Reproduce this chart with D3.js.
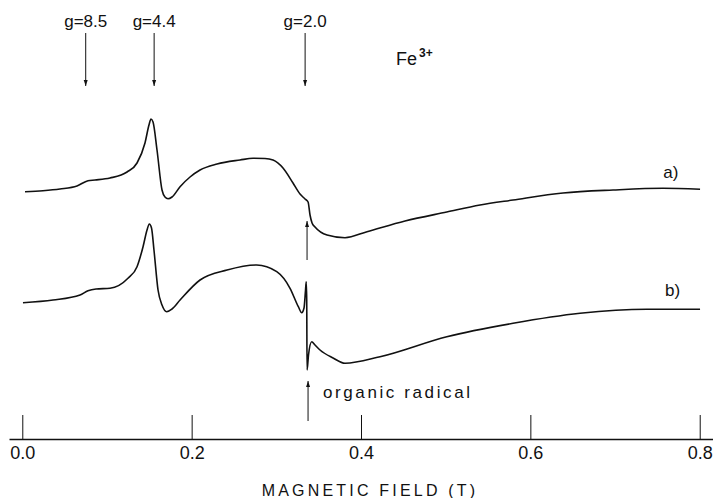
<!DOCTYPE html>
<html>
<head>
<meta charset="utf-8">
<script src="https://cdn.jsdelivr.net/npm/d3@7"></script>
<style>
  html, body { margin: 0; padding: 0; background: #fff; }
  svg { display: block; }
  text { font-family: "Liberation Sans", Arial, sans-serif; fill: #111; }
</style>
</head>
<body>
<svg id="chart" width="713" height="498"></svg>
<script>
// ---- data (magnetic field in T, derivative signal in arbitrary units) ----
const fieldA = [0.0032,0.0244,0.0445,0.0646,0.0776,0.0859,0.1036,0.1237,0.1355,0.1449,0.1496,0.1520,0.1544,0.1591,0.1650,0.1685,0.1721,0.1768,0.1863,0.1981,0.2099,0.2300,0.2571,0.2725,0.2866,0.2961,0.3079,0.3197,0.3280,0.3339,0.3375,0.3398,0.3422,0.3457,0.3599,0.3811,0.4071,0.4520,0.5013,0.5406,0.5796,0.6386,0.6977,0.7567,0.8004];
const signalA = [-0.17,-0.07,0.1,0.4,0.93,1.0,1.2,1.8,2.7,4.7,6.5,7.1,6.8,4.0,0,-0.7,-0.87,-0.7,0.33,1.3,2.0,2.6,3.0,3.17,3.15,3.0,2.2,0.7,-0.4,-0.9,-1.2,-2.5,-3.3,-3.7,-4.5,-4.77,-4.17,-3.1,-2.2,-1.5,-1.0,-0.3,0,0.17,0.07];

const fieldB = [0.0008,0.0363,0.0682,0.0776,0.0871,0.1036,0.1248,0.1355,0.1426,0.1473,0.1500,0.1526,0.1555,0.1603,0.1650,0.1705,0.1768,0.1863,0.2099,0.2418,0.2768,0.3005,0.3162,0.3260,0.3300,0.3327,0.3345,0.3353,0.3359,0.3363,0.3380,0.3418,0.3457,0.3516,0.3670,0.3811,0.4225,0.5013,0.5796,0.6587,0.7374,0.8004];
const signalB = [-0.27,0,0.5,0.93,1.1,1.17,2.17,3.33,5.33,7.0,7.6,7.2,5.0,1.0,-0.5,-1.17,-0.9,0,2.0,3.0,3.5,2.83,1.17,-0.67,-1.27,-0.8,1.0,1.83,0,-7.0,-5.5,-4.17,-4.5,-5.0,-5.8,-6.33,-5.67,-3.67,-2.33,-1.33,-0.93,-0.93];

const tickValues = [0.0, 0.2, 0.4, 0.6, 0.8];
const tickLabels = ["0.0", "0.2", "0.4", "0.6", "0.8"];
const gLabels = ["g=8.5", "g=4.4", "g=2.0"];
const gFields = [0.0749, 0.1557, 0.3340];
const radicalField = 0.3363;
const traceLabels = ["a)", "b)"];
const axisTitle = "MAGNETIC FIELD (T)";

// ---- layout ----
const svg = d3.select("#chart");
const x = d3.scaleLinear().domain([-0.0157, 0.8157]).range([9, 713]);
const y = d3.scaleLinear().domain([-15, 30]).range([450, 0]);
const offsetA = 11, offsetB = 0;
const axisY = 439;

svg.append("defs").append("marker")
  .attr("id", "head")
  .attr("markerUnits", "userSpaceOnUse")
  .attr("markerWidth", 6).attr("markerHeight", 8)
  .attr("refX", 6).attr("refY", 2)
  .attr("viewBox", "0 0 6 4")
  .attr("orient", "auto")
  .append("path").attr("d", "M0,0 L6,2 L0,4 Z").attr("fill", "#111");

// traces
const line = d3.line().curve(d3.curveMonotoneX);
function trace(fields, signals, off) {
  return line(fields.map((f, i) => [x(f), y(signals[i] + off)]));
}
svg.append("path").attr("d", trace(fieldA, signalA, offsetA))
  .attr("fill", "none").attr("stroke", "#111").attr("stroke-width", 1.6);
svg.append("path").attr("d", trace(fieldB, signalB, offsetB))
  .attr("fill", "none").attr("stroke", "#111").attr("stroke-width", 1.6);

// trace labels
svg.append("text").attr("x", x(0.766)).attr("y", y(offsetA + 1.8)).attr("dy", "0.35em")
  .attr("text-anchor", "middle").style("font-size", "17px").text(traceLabels[0]);
svg.append("text").attr("x", x(0.768)).attr("y", y(offsetB + 1.0)).attr("dy", "0.35em")
  .attr("text-anchor", "middle").style("font-size", "17px").text(traceLabels[1]);

// g-value arrows
gFields.forEach((g, i) => {
  svg.append("line").attr("x1", x(g)).attr("x2", x(g)).attr("y1", 33).attr("y2", 86)
    .attr("stroke", "#111").attr("stroke-width", 1).attr("marker-end", "url(#head)");
  svg.append("text").attr("x", x(g)).attr("y", 27).attr("text-anchor", "middle")
    .style("font-size", "17px").text(gLabels[i]);
});

// Fe3+
const fe = svg.append("text").attr("x", 396).attr("y", 65).style("font-size", "18px");
fe.append("tspan").text("Fe");
fe.append("tspan").attr("dy", -8).attr("dx", 2).style("font-size", "12px").style("font-weight", "bold").text("3+");

// radical arrows
svg.append("line").attr("x1", x(radicalField)).attr("x2", x(radicalField)).attr("y1", 260).attr("y2", 221)
  .attr("stroke", "#111").attr("stroke-width", 1).attr("marker-end", "url(#head)");
svg.append("line").attr("x1", x(radicalField) + 1).attr("x2", x(radicalField) + 1).attr("y1", 421).attr("y2", 381)
  .attr("stroke", "#111").attr("stroke-width", 1).attr("marker-end", "url(#head)");
svg.append("text").attr("x", 323).attr("y", 392).attr("dy", "0.35em")
  .style("font-size", "17px").style("letter-spacing", "2.6px").text("organic radical");

// axis
const axis = d3.axisBottom(x).tickValues(tickValues)
  .tickFormat((d, i) => tickLabels[i])
  .tickSizeInner(-24).tickSizeOuter(0).tickPadding(7);
const gAxis = svg.append("g").attr("transform", `translate(0,${axisY})`).call(axis);
gAxis.select(".domain").attr("stroke", "#111").attr("stroke-width", 1.6);
gAxis.selectAll(".tick line").attr("stroke", "#111").attr("stroke-width", 1);
gAxis.selectAll(".tick text").style("font-size", "18px").style("font-family", "'Liberation Sans', Arial, sans-serif").attr("fill", "#111");

svg.append("text").attr("x", 370).attr("y", 490).attr("dy", "0.35em").attr("text-anchor", "middle")
  .style("font-size", "16px").style("letter-spacing", "3.2px").text(axisTitle);
</script>
</body>
</html>
